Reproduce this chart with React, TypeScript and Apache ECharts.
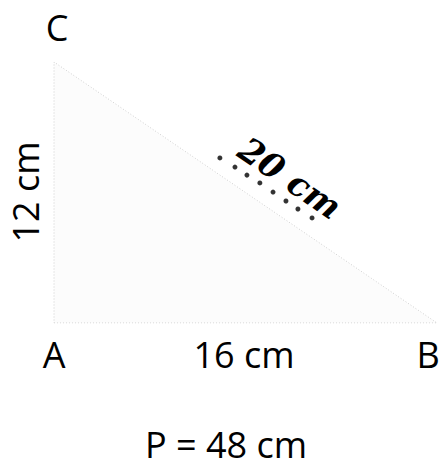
import React, { useEffect, useRef } from "react";
import * as echarts from "echarts";

// Triangle vertices in cm: A, B, C
const vertexNames = ["A", "B", "C"];
const vertexX = [0, 16, 0];
const vertexY = [0, 0, 12];
// Side lengths (cm)
const sideLabels = ["12 cm", "16 cm", "20 cm"];
const perimeterLabel = "P = 48 cm";
// Hand-drawn dots along the hypotenuse (cm coordinates)
const dotX = [6.93, 7.56, 8.06, 8.6, 9.15, 9.69, 10.19, 10.78];
const dotY = [7.59, 7.17, 6.8, 6.44, 6.02, 5.61, 5.24, 4.83];

export default function App() {
  const ref = useRef<HTMLDivElement>(null);
  useEffect(() => {
    if (!ref.current) return;
    const chart = echarts.init(ref.current, null, { renderer: "svg" });
    const tri = [0, 1, 2, 0].map((i) => [vertexX[i], vertexY[i]]);
    const font = '36px "Open Sans", "Noto Sans", sans-serif';
    chart.setOption({
      animation: false,
      backgroundColor: "#ffffff",
      grid: { left: 54, right: 8, top: 62, bottom: 145 },
      xAxis: { type: "value", min: 0, max: 16, show: false },
      yAxis: { type: "value", min: 0, max: 12, show: false },
      series: [
        {
          type: "line",
          data: tri,
          symbol: "none",
          lineStyle: { color: "#cfcfcf", width: 1, type: [1, 2] },
          areaStyle: { color: "rgba(0,0,0,0.015)" },
        },
        {
          type: "scatter",
          data: dotX.map((x, i) => [x, dotY[i]]),
          symbolSize: 5,
          itemStyle: { color: "#000" },
        },
      ],
      graphic: [
        { type: "text", x: 57, y: 27, style: { text: vertexNames[2], font, fill: "#000", align: "center", verticalAlign: "middle" } },
        { type: "text", x: 54, y: 354, style: { text: vertexNames[0], font, fill: "#000", align: "center", verticalAlign: "middle" } },
        { type: "text", x: 428, y: 354, style: { text: vertexNames[1], font, fill: "#000", align: "center", verticalAlign: "middle" } },
        { type: "text", x: 244, y: 354, style: { text: sideLabels[1], font, fill: "#000", align: "center", verticalAlign: "middle" } },
        { type: "text", x: 25, y: 192, rotation: Math.PI / 2, style: { text: sideLabels[0], font, fill: "#000", align: "center", verticalAlign: "middle" } },
        {
          type: "text", x: 290, y: 178, rotation: -0.6,
          style: { text: sideLabels[2], font: 'italic bold 34px "DejaVu Serif", serif', fill: "#000", align: "center", verticalAlign: "middle" },
        },
        { type: "text", x: 226, y: 444, style: { text: perimeterLabel, font, fill: "#000", align: "center", verticalAlign: "middle" } },
      ],
    });
    return () => chart.dispose();
  }, []);
  return <div ref={ref} style={{ position: "fixed", left: 0, top: 0, width: 445, height: 468 }} />;
}
